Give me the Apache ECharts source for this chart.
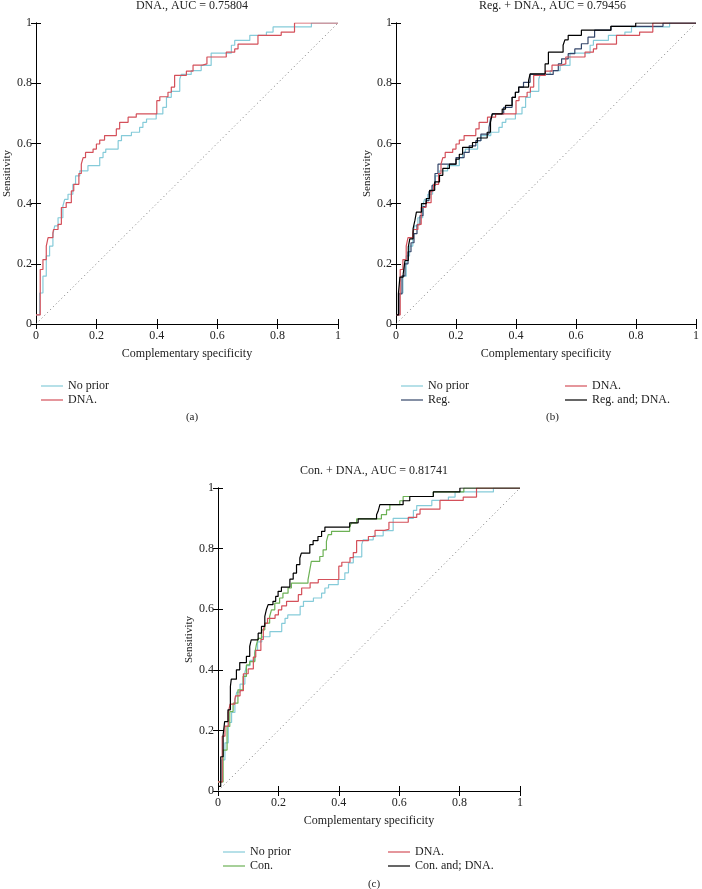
<!DOCTYPE html>
<html>
<head>
<meta charset="utf-8">
<script src="https://cdn.jsdelivr.net/npm/echarts@6/dist/echarts.min.js"></script>
<style>
  html, body { margin: 0; padding: 0; background: #fff; }
  #chart { width: 702px; height: 889px; }
</style>
</head>
<body>
<div id="chart"></div>
<script>
// ROC curves: [complementary specificity, sensitivity], each point starts a horizontal step
const noPrior = [
  [0, 0.03], [0.012, 0.103], [0.023, 0.159], [0.034, 0.226], [0.045, 0.259], [0.056, 0.298],
  [0.062, 0.326], [0.073, 0.353], [0.089, 0.392], [0.095, 0.414], [0.106, 0.431], [0.122, 0.464],
  [0.131, 0.492], [0.145, 0.509], [0.172, 0.526], [0.211, 0.553], [0.222, 0.57], [0.231, 0.581],
  [0.272, 0.609], [0.283, 0.626], [0.316, 0.637], [0.343, 0.653], [0.354, 0.67], [0.366, 0.681],
  [0.398, 0.698], [0.42, 0.72], [0.432, 0.753], [0.448, 0.773], [0.476, 0.814], [0.481, 0.829],
  [0.514, 0.842], [0.547, 0.859], [0.58, 0.9], [0.647, 0.926], [0.658, 0.942], [0.708, 0.959],
  [0.763, 0.97], [0.785, 0.987], [0.912, 1], [1, 1]
];
const dna = [
  [0, 0.03], [0.014, 0.181], [0.023, 0.214], [0.034, 0.259], [0.04, 0.287], [0.056, 0.303],
  [0.058, 0.314], [0.073, 0.331], [0.084, 0.387], [0.1, 0.403], [0.117, 0.442], [0.125, 0.464],
  [0.142, 0.5], [0.15, 0.531], [0.156, 0.553], [0.164, 0.57], [0.189, 0.581], [0.2, 0.598],
  [0.211, 0.611], [0.227, 0.626], [0.266, 0.648], [0.277, 0.67], [0.305, 0.687], [0.332, 0.698],
  [0.4, 0.742], [0.41, 0.755], [0.437, 0.77], [0.448, 0.787], [0.459, 0.826], [0.498, 0.84],
  [0.52, 0.86], [0.551, 0.864], [0.566, 0.887], [0.63, 0.903], [0.658, 0.914], [0.669, 0.93],
  [0.735, 0.959], [0.812, 0.97], [0.856, 1], [1, 1]
];
const reg = [
  [0, 0.03], [0.01, 0.1], [0.02, 0.16], [0.03, 0.2], [0.04, 0.24], [0.05, 0.27], [0.06, 0.3],
  [0.07, 0.33], [0.08, 0.36], [0.09, 0.39], [0.1, 0.41], [0.11, 0.44], [0.12, 0.46], [0.13, 0.5],
  [0.14, 0.531], [0.2, 0.553], [0.227, 0.57], [0.244, 0.592], [0.266, 0.609], [0.283, 0.631],
  [0.31, 0.653], [0.315, 0.681], [0.321, 0.698], [0.359, 0.72], [0.387, 0.753], [0.398, 0.77],
  [0.409, 0.787], [0.425, 0.803], [0.447, 0.829], [0.524, 0.842], [0.541, 0.864], [0.552, 0.881],
  [0.574, 0.898], [0.596, 0.914], [0.618, 0.931], [0.64, 0.953], [0.662, 0.976], [0.717, 0.989],
  [0.89, 1], [1, 1]
];
const regDna = [
  [0, 0.03], [0.008, 0.1], [0.013, 0.156], [0.024, 0.167], [0.03, 0.211], [0.041, 0.256],
  [0.046, 0.283], [0.057, 0.317], [0.063, 0.344], [0.068, 0.372], [0.085, 0.4], [0.101, 0.417],
  [0.112, 0.444], [0.129, 0.472], [0.145, 0.494], [0.156, 0.517], [0.178, 0.531], [0.2, 0.548],
  [0.211, 0.564], [0.222, 0.587], [0.255, 0.603], [0.271, 0.618], [0.304, 0.637], [0.315, 0.67],
  [0.321, 0.698], [0.354, 0.714], [0.365, 0.726], [0.387, 0.753], [0.398, 0.77], [0.409, 0.787],
  [0.442, 0.809], [0.447, 0.831], [0.497, 0.864], [0.508, 0.903], [0.557, 0.926], [0.563, 0.944],
  [0.574, 0.959], [0.618, 0.976], [0.716, 0.989], [0.799, 1], [1, 1]
];
const con = [
  [0, 0.03], [0.017, 0.135], [0.03, 0.213], [0.039, 0.262], [0.05, 0.29], [0.066, 0.334],
  [0.083, 0.378], [0.094, 0.416], [0.105, 0.427], [0.122, 0.455], [0.127, 0.482], [0.133, 0.504],
  [0.144, 0.532], [0.155, 0.554], [0.171, 0.576], [0.177, 0.598], [0.188, 0.62], [0.204, 0.637],
  [0.215, 0.653], [0.232, 0.67], [0.243, 0.686], [0.298, 0.697], [0.304, 0.73], [0.309, 0.758],
  [0.337, 0.774], [0.348, 0.796], [0.359, 0.824], [0.365, 0.846], [0.376, 0.857], [0.436, 0.871],
  [0.442, 0.885], [0.459, 0.898], [0.541, 0.912], [0.558, 0.928], [0.569, 0.945], [0.602, 0.958],
  [0.613, 0.972], [0.713, 0.987], [0.814, 1], [1, 1]
];
const conDna = [
  [0, 0.015], [0.009, 0.113], [0.017, 0.185], [0.022, 0.229], [0.033, 0.268], [0.041, 0.345],
  [0.044, 0.369], [0.061, 0.4], [0.072, 0.424], [0.094, 0.444], [0.105, 0.477], [0.11, 0.499],
  [0.133, 0.521], [0.144, 0.543], [0.155, 0.576], [0.16, 0.598], [0.166, 0.615], [0.182, 0.626],
  [0.191, 0.642], [0.199, 0.659], [0.21, 0.673], [0.238, 0.699], [0.249, 0.719], [0.26, 0.747],
  [0.271, 0.769], [0.276, 0.785], [0.304, 0.813], [0.315, 0.826], [0.331, 0.84], [0.343, 0.857],
  [0.354, 0.871], [0.436, 0.885], [0.464, 0.898], [0.525, 0.912], [0.53, 0.923], [0.536, 0.945],
  [0.613, 0.958], [0.635, 0.972], [0.713, 0.987], [0.801, 1], [1, 1]
];
const chance = [[0, 0], [1, 1]];

const titles = ['DNA., AUC = 0.75804', 'Reg. + DNA., AUC = 0.79456', 'Con. + DNA., AUC = 0.81741'];
const tags = ['(a)', '(b)', '(c)'];

const FONT = 'Liberation Serif';
const colors = {
  'No prior': '#85cbd9',
  'DNA.': '#d4505a',
  'Reg.': '#34466a',
  'Reg. and; DNA.': '#000000',
  'Con.': '#6cb155',
  'Con. and; DNA.': '#000000'
};

const grids = [
  { left: 36, top: 23, width: 302, height: 301 },
  { left: 396, top: 23, width: 303, height: 301 },
  { left: 218, top: 488, width: 302, height: 303 }
];

// which curves go in which panel
const panels = [
  [['No prior', noPrior], ['DNA.', dna]],
  [['No prior', noPrior], ['Reg.', reg], ['DNA.', dna], ['Reg. and; DNA.', regDna]],
  [['No prior', noPrior], ['Con.', con], ['DNA.', dna], ['Con. and; DNA.', conDna]]
];

const axisText = { fontFamily: FONT, fontSize: 12, color: '#222' };
const lineBlack = { lineStyle: { color: '#000', width: 1 } };

const xAxes = [];
const yAxes = [];
grids.forEach((g, i) => {
  const base = {
    gridIndex: i, type: 'value', min: 0, max: 1, interval: 0.2,
    axisLine: lineBlack, splitLine: { show: false },
    axisTick: { inside: true, length: 5, lineStyle: { color: '#000' } }
  };
  xAxes.push(Object.assign({}, base, {
    position: 'bottom',
    axisLabel: Object.assign({ margin: 6 }, axisText),
    name: 'Complementary specificity', nameLocation: 'middle', nameGap: 24,
    nameTextStyle: axisText
  }));
  xAxes.push(Object.assign({}, base, { position: 'top', axisLabel: { show: false } }));
  yAxes.push(Object.assign({}, base, {
    position: 'left',
    axisLabel: Object.assign({ margin: 4 }, axisText),
    name: 'Sensitivity', nameLocation: 'middle', nameGap: 23,
    nameTextStyle: Object.assign({}, axisText, { fontSize: 11 })
  }));
  yAxes.push(Object.assign({}, base, { position: 'right', axisLabel: { show: false } }));
});

const series = [];
panels.forEach((curves, i) => {
  series.push({
    type: 'line', xAxisIndex: i * 2, yAxisIndex: i * 2, data: chance,
    showSymbol: false, silent: true,
    lineStyle: { color: '#777', width: 1, type: [1, 3] }
  });
  curves.forEach(([name, data]) => {
    series.push({
      name, type: 'line', xAxisIndex: i * 2, yAxisIndex: i * 2, data,
      step: 'end', showSymbol: false, animation: false,
      itemStyle: { color: colors[name] },
      lineStyle: { color: colors[name], width: 1.2 }
    });
  });
});

const legendBase = {
  orient: 'vertical', icon: 'rect', itemWidth: 22, itemHeight: 1.2, itemGap: 0,
  selectedMode: false,
  textStyle: { fontFamily: FONT, fontSize: 12, color: '#222', lineHeight: 14 }
};
const legends = [
  Object.assign({}, legendBase, { left: 36, top: 374, data: ['No prior', 'DNA.'] }),
  Object.assign({}, legendBase, { left: 396, top: 374, data: ['No prior', 'Reg.'] }),
  Object.assign({}, legendBase, { left: 560, top: 374, data: ['DNA.', 'Reg. and; DNA.'] }),
  Object.assign({}, legendBase, { left: 218, top: 840, data: ['No prior', 'Con.'] }),
  Object.assign({}, legendBase, { left: 383, top: 840, data: ['DNA.', 'Con. and; DNA.'] })
];

const titleList = [];
grids.forEach((g, i) => {
  const cx = g.left + g.width / 2;
  titleList.push({
    text: titles[i], left: cx, top: g.top - 28, textAlign: 'center',
    textStyle: { fontFamily: FONT, fontSize: 12, fontWeight: 'normal', color: '#222' }
  });
  titleList.push({
    text: tags[i], left: cx, top: g.top + g.height + 83, textAlign: 'center',
    textStyle: { fontFamily: FONT, fontSize: 11, fontWeight: 'normal', color: '#222' }
  });
});

const chart = echarts.init(document.getElementById('chart'));
chart.setOption({
  animation: false,
  backgroundColor: '#fff',
  title: titleList,
  legend: legends,
  grid: grids,
  xAxis: xAxes,
  yAxis: yAxes,
  series
});
</script>
</body>
</html>
